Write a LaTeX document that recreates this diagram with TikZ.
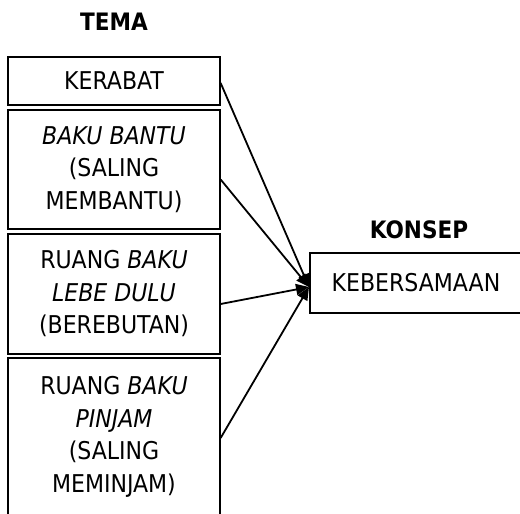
\documentclass[tikz,border=0pt]{standalone}
\usepackage{fontspec}
\setmainfont{DejaVu Sans Condensed}
\usetikzlibrary{arrows.meta}

\tikzset{
    tema/.style={draw, line width=1.3pt, minimum width=212pt, align=center, inner sep=0pt,
        font=\fontsize{24.5}{32.5}\selectfont},
    judul/.style={font=\fontsize{24}{28}\selectfont\bfseries, inner sep=0pt},
    panah/.style={line width=1.8pt, -{Triangle[length=13pt,width=11pt]}}
}

\begin{document}
\begin{tikzpicture}[x=1pt,y=-1pt]
        \useasboundingbox (0,0) rectangle (520,514);
        \node[judul] (jtema) at (114,22) {TEMA};
        \node[judul] (jkonsep) at (419,230) {KONSEP};
        \node[tema, minimum height=48pt] (kerabat) at (114,81) {KERABAT};
        \node[tema, minimum height=119pt] (bantu) at (114,169.5) {\textit{BAKU BANTU}\\(SALING\\MEMBANTU)};
        \node[tema, minimum height=120pt] (lebe) at (114,294) {RUANG \textit{BAKU}\\\textit{LEBE DULU}\\(BEREBUTAN)};
        \node[tema, minimum height=158pt] (pinjam) at (114,437) {RUANG \textit{BAKU}\\\textit{PINJAM}\\(SALING\\MEMINJAM)};
        \node[tema, minimum height=60pt] (kebersamaan) at (416,283) {KEBERSAMAAN};
        \coordinate (tuju) at (309,287);
        \draw[panah] ([yshift=-2pt]kerabat.east) -- (tuju);
        \draw[panah] ([yshift=-10pt]bantu.east) -- (tuju);
        \draw[panah] ([yshift=-10pt]lebe.east) -- (tuju);
        \draw[panah] ([yshift=-1pt]pinjam.east) -- (tuju);
    \end{tikzpicture}
\end{document}
